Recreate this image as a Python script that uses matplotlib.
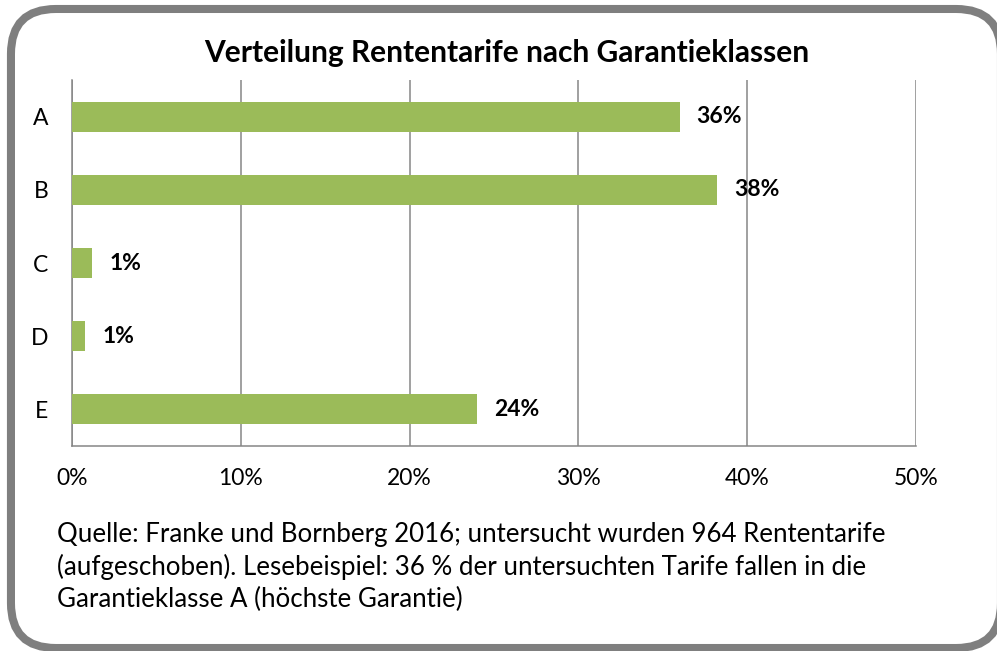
import matplotlib.pyplot as plt
from matplotlib.patches import FancyBboxPatch
import numpy as np

plt.rcParams['font.family'] = ['Lato', 'DejaVu Sans']

categories = ["A", "B", "C", "D", "E"]
values = [36.0, 38.2, 1.2, 0.8, 24.0]
labels = ["36%", "38%", "1%", "1%", "24%"]
ticks = [0, 10, 20, 30, 40, 50]

fig = plt.figure(figsize=(9.97, 6.51), dpi=100)

# rounded gray frame (runs slightly off the right edge, like the original)
frame = FancyBboxPatch((0.011, 0.0046), 0.993, 0.9816,
                       boxstyle="round,pad=0,rounding_size=0.045",
                       transform=fig.transFigure, facecolor="white",
                       edgecolor="#7f7f7f", linewidth=5.8, zorder=-5,
                       mutation_aspect=997/651)
fig.patches.append(frame)

ax = fig.add_axes([0.0722, 0.3149, 0.8465, 0.5622])
ax.set_zorder(2)
ax.set_facecolor("none")
y = np.arange(len(categories))
ax.barh(y, values, height=0.41, color="#9BBB59", zorder=3)
for yi, v, lab in zip(y, values, labels):
    ax.annotate(lab, (v, yi), xytext=(17, 0), textcoords="offset pixels",
                va="center", ha="left", fontsize=16.5, fontweight="bold", zorder=4)

ax.set_xlim(0, 50)
ax.set_ylim(4.5, -0.5)
ax.set_xticks(ticks)
ax.set_xticklabels([f"{t}%" for t in ticks], fontsize=16.5)
ax.set_yticks(y)
ax.set_yticklabels(categories, fontsize=16.5)
ax.tick_params(axis="x", length=0, pad=16)
ax.tick_params(axis="y", length=0, pad=17)
ax.grid(axis="x", color="#868686", linewidth=1.1, zorder=1)
for s in ["top", "right"]:
    ax.spines[s].set_visible(False)
for s in ["left", "bottom"]:
    ax.spines[s].set_color("#868686")
    ax.spines[s].set_linewidth(1.1)

fig.text(0.508, 0.918, "Verteilung Rententarife nach Garantieklassen",
         ha="center", va="center", fontsize=21.5, fontweight="bold")

note = ("Quelle: Franke und Bornberg 2016; untersucht wurden 964 Rententarife\n"
        "(aufgeschoben). Lesebeispiel: 36 % der untersuchten Tarife fallen in die\n"
        "Garantieklasse A (höchste Garantie)")
fig.text(0.057, 0.129, note, ha="left", va="center", fontsize=18.6, linespacing=1.33)

fig.savefig("out.png", dpi=100)
